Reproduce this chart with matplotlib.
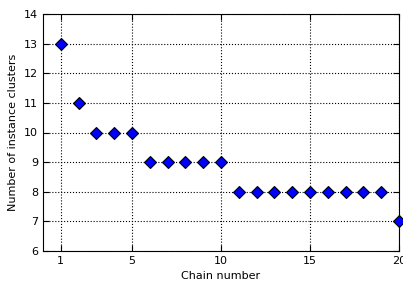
import matplotlib
matplotlib.use("Agg")
import matplotlib.pyplot as plt

chain = list(range(1, 21))
clusters = [13, 11, 10, 10, 10, 9, 9, 9, 9, 9, 8, 8, 8, 8, 8, 8, 8, 8, 8, 7]
xticks = [1, 5, 10, 15, 20]

plt.rcParams["font.family"] = ["DejaVu Sans"]
plt.rcParams["font.size"] = 8

fig = plt.figure(figsize=(4.03, 2.82), dpi=100)
ax = fig.add_axes([43 / 403, 31 / 282, 356 / 403, 237 / 282])

ax.plot(chain, clusters, "D", color="blue", markeredgecolor="black",
        markeredgewidth=0.8, markersize=6, clip_on=False, zorder=3)

ax.set_xlim(0, 20)
ax.set_ylim(6, 14)
ax.set_xticks(xticks)
ax.set_yticks(range(6, 15))
ax.tick_params(direction="in", top=True, right=True, length=4, labelsize=8)
ax.grid(True, linestyle=":", color="black", linewidth=0.8)
ax.set_axisbelow(True)
ax.set_xlabel("Chain number", fontsize=8)
ax.set_ylabel("Number of instance clusters", fontsize=8)

fig.savefig("out.png", dpi=100)
